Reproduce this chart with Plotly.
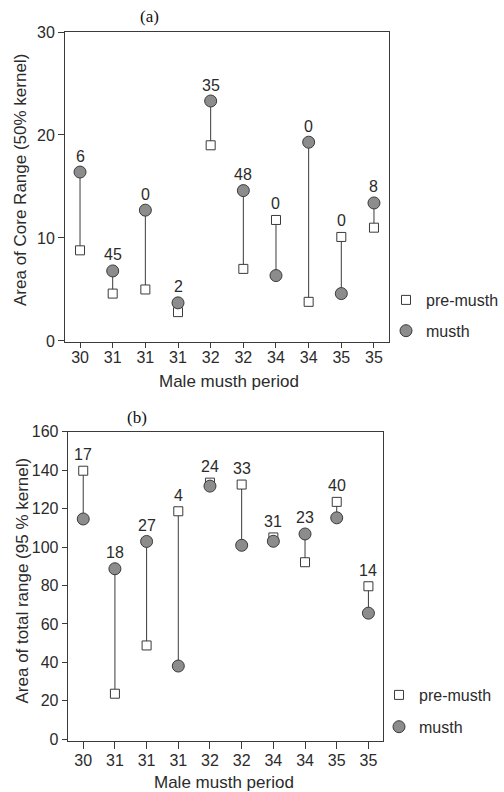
import plotly.graph_objects as go

# ---- data ----
categories = ["30", "31", "31", "31", "32", "32", "34", "34", "35", "35"]

core_pre = [8.8, 4.6, 5.0, 2.8, 19.0, 7.0, 11.75, 3.8, 10.1, 11.0]
core_musth = [16.4, 6.8, 12.7, 3.7, 23.3, 14.6, 6.35, 19.3, 4.6, 13.4]
core_labels = ["6", "45", "0", "2", "35", "48", "0", "0", "0", "8"]

total_pre = [139.7, 23.7, 48.8, 118.6, 133.5, 132.5, 105.0, 92.1, 123.5, 79.6]
total_musth = [114.6, 88.7, 102.9, 38.1, 131.7, 100.9, 103.0, 106.8, 115.2, 65.6]
total_labels = ["17", "18", "27", "4", "24", "33", "31", "23", "40", "14"]

W, H = 504, 792
SANS = "Liberation Sans, Arial, sans-serif"
SERIF = "Liberation Serif, Times New Roman, serif"
TXT = "#2b2b2b"
LINE = "#3a3a3a"
FILL = "#8c8c8c"

fig = go.Figure()


def px_x(p):
    return p / W


def px_y(p):
    return 1 - p / H


def add_panel(pre, musth, labels, xa, ya, legend):
    xs = list(range(len(categories)))
    lx, ly = [], []
    for i in xs:
        lx += [i, i, None]
        ly += [pre[i], musth[i], None]
    fig.add_trace(go.Scatter(x=lx, y=ly, mode="lines", xaxis=xa, yaxis=ya,
                             line=dict(color=LINE, width=1), showlegend=False,
                             hoverinfo="skip"))
    fig.add_trace(go.Scatter(x=xs, y=pre, mode="markers", name="pre-musth",
                             xaxis=xa, yaxis=ya, legend=legend,
                             legendgroup=legend + "pre",
                             marker=dict(symbol="square", size=9, color="white",
                                         line=dict(color=LINE, width=1))))
    fig.add_trace(go.Scatter(x=xs, y=musth, mode="markers", name="musth",
                             xaxis=xa, yaxis=ya, legend=legend,
                             legendgroup=legend + "musth",
                             marker=dict(symbol="circle", size=12, color=FILL,
                                         line=dict(color=LINE, width=1))))
    for i in xs:
        fig.add_annotation(x=i, y=max(pre[i], musth[i]), xref=xa, yref=ya,
                           text=labels[i], showarrow=False, yshift=16,
                           xanchor="center", yanchor="middle",
                           font=dict(family=SANS, size=16, color=TXT))


add_panel(core_pre, core_musth, core_labels, "x", "y", "legend")
add_panel(total_pre, total_musth, total_labels, "x2", "y2", "legend2")

axis_common = dict(showline=True, mirror=True, linecolor=LINE, linewidth=1,
                   showgrid=False, zeroline=False, ticks="outside",
                   tickcolor=LINE, tickwidth=1, automargin=False,
                   tickfont=dict(family=SANS, size=16, color=TXT))

fig.update_layout(
    width=W, height=H, autosize=False,
    margin=dict(l=0, r=0, t=0, b=0, pad=0, autoexpand=False),
    paper_bgcolor="white", plot_bgcolor="white",
    xaxis=dict(domain=[px_x(65), px_x(389)], anchor="y", range=[-0.46, 9.46],
               tickvals=list(range(10)), ticktext=categories, ticklen=5,
               ticklabelstandoff=-4, **axis_common),
    yaxis=dict(domain=[px_y(342), px_y(32)], anchor="x", range=[-0.1, 30],
               tickvals=[0, 10, 20, 30], ticklen=6, **axis_common),
    xaxis2=dict(domain=[px_x(67.7), px_x(383.3)], anchor="y2", range=[-0.49, 9.47],
                tickvals=list(range(10)), ticktext=categories, ticklen=7,
                ticklabelstandoff=-2, **axis_common),
    yaxis2=dict(domain=[px_y(741), px_y(431.7)], anchor="x2", range=[-0.9, 160],
                tickvals=[0, 20, 40, 60, 80, 100, 120, 140, 160], ticklen=5,
                **axis_common),
    legend=dict(x=px_x(386), y=px_y(283), xanchor="left", yanchor="top",
                font=dict(family=SANS, size=16, color=TXT), tracegroupgap=7,
                bgcolor="rgba(0,0,0,0)", traceorder="grouped"),
    legend2=dict(x=px_x(379), y=px_y(678), xanchor="left", yanchor="top",
                 font=dict(family=SANS, size=16, color=TXT), tracegroupgap=8,
                 bgcolor="rgba(0,0,0,0)", traceorder="grouped"),
)

# axis titles and panel labels
ann_common = dict(xref="paper", yref="paper", showarrow=False,
                  xanchor="center", yanchor="middle")
fig.add_annotation(x=px_x(229), y=px_y(381), text="Male musth period",
                   font=dict(family=SANS, size=17, color=TXT), **ann_common)
fig.add_annotation(x=px_x(224), y=px_y(782), text="Male musth period",
                   font=dict(family=SANS, size=17, color=TXT), **ann_common)
fig.add_annotation(x=px_x(20), y=px_y(180), text="Area of Core Range (50% kernel)",
                   textangle=-90, font=dict(family=SANS, size=17, color=TXT),
                   **ann_common)
fig.add_annotation(x=px_x(21.5), y=px_y(581), text="Area of total range (95 % kernel)",
                   textangle=-90, font=dict(family=SANS, size=17, color=TXT),
                   **ann_common)
fig.add_annotation(x=px_x(149), y=px_y(16), text="(a)",
                   font=dict(family=SERIF, size=17, color="#111"), **ann_common)
fig.add_annotation(x=px_x(137), y=px_y(417.5), text="(b)",
                   font=dict(family=SERIF, size=17, color="#111"), **ann_common)

fig.write_html("out.html")
